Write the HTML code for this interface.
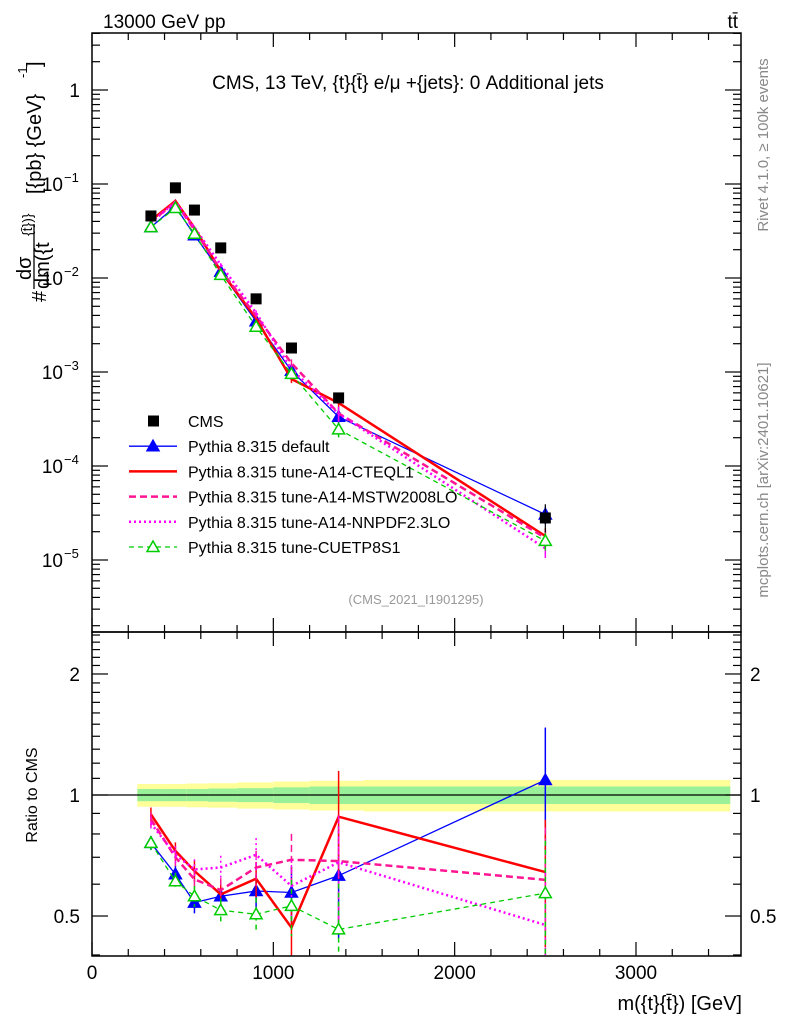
<!DOCTYPE html>
<html><head><meta charset="utf-8"><style>
html,body{margin:0;padding:0;background:#fff;}
svg text{font-family:"Liberation Sans",sans-serif;}
</style></head><body>
<svg id="chart" width="786" height="1024" viewBox="0 0 786 1024" xmlns="http://www.w3.org/2000/svg">
<g id="ratio-bands"></g>
<g id="marks"></g>
<g id="axes"></g>
<text x="103" y="28" font-size="19">13000 GeV pp</text>
<text x="738" y="28" font-size="19" text-anchor="end">tt̄</text>
<text x="408" y="89" font-size="19" text-anchor="middle">CMS, 13 TeV, {t}{t̄} e/μ +{jets}: 0 Additional jets</text>
<text x="416" y="604" font-size="13" fill="#999" text-anchor="middle">(CMS_2021_I1901295)</text>
<text transform="translate(768,145) rotate(-90)" font-size="15" fill="#888" text-anchor="middle">Rivet 4.1.0, ≥ 100k events</text>
<text transform="translate(768,480) rotate(-90)" font-size="15" fill="#888" text-anchor="middle">mcplots.cern.ch [arXiv:2401.10621]</text>
<g transform="translate(46,302) rotate(-90)">
 <text x="0" y="0" font-size="20">#</text>
 <text x="22" y="-15" font-size="20">dσ</text>
 <line x1="13" y1="-12" x2="78" y2="-12" stroke="#000" stroke-width="1.3"/>
 <text x="13" y="3" font-size="20">dm({t</text>
 <text x="66" y="-14" font-size="14">{t̄})}</text>
 <text x="108" y="-5" font-size="20">[{pb} {GeV}</text>
 <text x="224" y="-19" font-size="13">-1</text>
 <text x="235" y="-5" font-size="20">]</text>
</g>
<text transform="translate(37,795) rotate(-90)" font-size="16" text-anchor="middle">Ratio to CMS</text>
<text x="742" y="1010" font-size="20" text-anchor="end">m({t}{t̄}) [GeV]</text>
<g id="legend"></g>
</svg>
<script>
const massBins = [325, 460, 565, 710, 905, 1100, 1360, 2500];
const cmsValues = [0.0457, 0.091, 0.0528, 0.0209, 0.0060, 0.0018, 0.00053, 0.000028];
const ratioDefault = [0.76, 0.635, 0.54, 0.56, 0.577, 0.572, 0.63, 1.09];
const ratioCTEQ = [0.895, 0.726, 0.647, 0.566, 0.619, 0.468, 0.883, 0.643];
const ratioMSTW = [0.87, 0.70, 0.617, 0.58, 0.66, 0.69, 0.685, 0.615];
const ratioNNPDF = [0.85, 0.71, 0.653, 0.66, 0.71, 0.594, 0.68, 0.475];
const ratioCUETP = [0.76, 0.61, 0.56, 0.517, 0.505, 0.53, 0.463, 0.57];
const ratioRelErr = [0.04, 0.05, 0.06, 0.07, 0.1, 0.16, 0.3, 0.35];
const bandEdges = [250, 400, 520, 640, 800, 1000, 1200, 1500, 3520];
const bandGreen = [0.035, 0.035, 0.035, 0.038, 0.04, 0.045, 0.05, 0.05];
const bandYellow = [0.065, 0.065, 0.068, 0.07, 0.075, 0.08, 0.085, 0.09];
const xTicks = [0, 1000, 2000, 3000];
const yDecades = [0, -1, -2, -3, -4, -5];
const yDecadeLabels = ["1", "10", "10", "10", "10", "10"];
const yDecadeExps = ["", "−1", "−2", "−3", "−4", "−5"];
const ratioTicks = [2, 1, 0.5];

const NS = "http://www.w3.org/2000/svg";
const L = 92, R = 741, T = 33, MB = 632, RB = 956;
const xs = v => L + v * 0.18133;
const ys = v => 90 - 94 * Math.log10(v);
const yr = v => 795 - 402 * Math.log10(v);
function mk(parent, tag, attrs) {
  const e = document.createElementNS(NS, tag);
  for (const k in attrs) e.setAttribute(k, attrs[k]);
  parent.appendChild(e);
  return e;
}
const axes = document.getElementById("axes");
const marks = document.getElementById("marks");
const bands = document.getElementById("ratio-bands");
const legend = document.getElementById("legend");

for (let i = 0; i < bandEdges.length - 1; i++) {
  const x1 = xs(bandEdges[i]), x2 = xs(bandEdges[i + 1]);
  const y = mk(bands, "rect", {x: x1, y: yr(1 + bandYellow[i]), width: x2 - x1, height: yr(1 - bandYellow[i]) - yr(1 + bandYellow[i]), fill: "#ffff99"});
  
  
  const g = mk(bands, "rect", {x: x1, y: yr(1 + bandGreen[i]), width: x2 - x1, height: yr(1 - bandGreen[i]) - yr(1 + bandGreen[i]), fill: "#99f099"});
  
  
}
const one = mk(bands, "line", {x1: L, x2: R, y1: yr(1), y2: yr(1), stroke: "#000", "stroke-width": 1.2});



for (const [t, b, nm] of [[T, MB, 'main-panel-frame'], [MB, RB, 'ratio-panel-frame']]) {
  const f = mk(axes, "rect", {x: L, y: t, width: R - L, height: b - t, fill: "none", stroke: "#000", "stroke-width": 1.5});
  
  
}
for (const [t, b] of [[T, MB], [MB, RB]]) {
  for (let v = 0; v <= 3500; v += 200) {
    const major = v % 1000 === 0;
    const len = major ? 14 : 7;
    const x = xs(v);
    mk(axes, "line", {x1: x, x2: x, y1: b, y2: b - len, stroke: "#000", "stroke-width": 1.2});
    mk(axes, "line", {x1: x, x2: x, y1: t, y2: t + len, stroke: "#000", "stroke-width": 1.2});
  }
}
xTicks.forEach(v => {
  const t = mk(axes, "text", {x: xs(v), y: 979, "font-size": 19, "text-anchor": "middle"});
  t.textContent = v;
  
  
});
for (let d = -6; d <= 0; d++) {
  for (let m = 1; m <= 9; m++) {
    const v = m * Math.pow(10, d);
    const y = ys(v);
    if (y < T || y > MB) continue;
    const len = m === 1 ? 16 : 8;
    mk(axes, "line", {x1: L, x2: L + len, y1: y, y2: y, stroke: "#000", "stroke-width": 1.2});
    mk(axes, "line", {x1: R, x2: R - len, y1: y, y2: y, stroke: "#000", "stroke-width": 1.2});
  }
}
yDecades.forEach((d, i) => {
  const y = ys(Math.pow(10, d));
  const t = mk(axes, "text", {x: yDecadeExps[i] ? 63 : 80, y: y + 7, "font-size": 19, "text-anchor": "end"});
  t.textContent = yDecadeLabels[i];
  
  
  if (yDecadeExps[i]) {
    const e = mk(axes, "text", {x: 64, y: y - 2, "font-size": 13});
    e.textContent = yDecadeExps[i];
    
    
  }
});
for (let k = 4; k <= 25; k++) {
  const vv = k / 10;
  const y = yr(vv);
  if (y < MB || y > RB) continue;
  const major = ratioTicks.includes(vv);
  const len = major ? 16 : 8;
  mk(axes, "line", {x1: L, x2: L + len, y1: y, y2: y, stroke: "#000", "stroke-width": 1.2});
  mk(axes, "line", {x1: R, x2: R - len, y1: y, y2: y, stroke: "#000", "stroke-width": 1.2});
}
ratioTicks.forEach(v => {
  const y = yr(v);
  const a = mk(axes, "text", {x: 80, y: y + 7, "font-size": 19, "text-anchor": "end"});
  a.textContent = v;
  
  
  const b = mk(axes, "text", {x: 750, y: y + 7, "font-size": 19});
  b.textContent = v;
  
  
});

const series = [
  {name: "default", ratio: ratioDefault, color: "#0000ff", width: 1.3, dash: "", marker: "filled"},
  {name: "cteq", ratio: ratioCTEQ, color: "#ff0000", width: 2.5, dash: "", marker: ""},
  {name: "mstw", ratio: ratioMSTW, color: "#ff1493", width: 2.5, dash: "7,4", marker: ""},
  {name: "nnpdf", ratio: ratioNNPDF, color: "#ff00ff", width: 2.5, dash: "2,3", marker: ""},
  {name: "cuetp", ratio: ratioCUETP, color: "#00cc00", width: 1.3, dash: "5,4", marker: "open"}
];
function tri(parent, x, y, s, filled) {
  return mk(parent, "polygon", {points: `${x},${y - 6} ${x - 6},${y + 4.5} ${x + 6},${y + 4.5}`, fill: filled ? s.color : "#fff", stroke: s.color, "stroke-width": 1.5});
}
series.forEach(s => {
  const g = mk(marks, "g", {});
  
  
  const main = s.ratio.map((r, i) => cmsValues[i] * r);
  const mainPts = massBins.map((m, i) => `${xs(m)},${ys(main[i])}`).join(" ");
  const ratPts = massBins.map((m, i) => `${xs(m)},${yr(s.ratio[i])}`).join(" ");
  const l1 = mk(g, "polyline", {points: mainPts, fill: "none", stroke: s.color, "stroke-width": s.width, "stroke-dasharray": s.dash});
  
  
  const l2 = mk(g, "polyline", {points: ratPts, fill: "none", stroke: s.color, "stroke-width": s.width, "stroke-dasharray": s.dash});
  
  
  massBins.forEach((m, i) => {
    const x = xs(m);
    const e = ratioRelErr[i];
    const r = s.ratio[i];
    const y1 = Math.max(MB, yr(r * (1 + e))), y2 = Math.min(RB, yr(Math.max(0.01, r * (1 - e))));
    const eb = mk(g, "line", {x1: x, x2: x, y1: y1, y2: y2, stroke: s.color, "stroke-width": 1.5, "stroke-dasharray": s.dash});
    
    
    const my1 = ys(main[i] * (1 + e * 0.6)), my2 = ys(main[i] * (1 - e * 0.6));
    const em = mk(g, "line", {x1: x, x2: x, y1: my1, y2: my2, stroke: s.color, "stroke-width": 1.5});
    
    
    if (s.marker) {
      const a = tri(g, x, ys(main[i]), s, s.marker === "filled");
      
      
      const b = tri(g, x, yr(r), s, s.marker === "filled");
      
      
    }
  });
});
massBins.forEach((m, i) => {
  const sq = mk(marks, "rect", {x: xs(m) - 5.5, y: ys(cmsValues[i]) - 5.5, width: 11, height: 11, fill: "#000"});
  
  
});
const cmsErr = mk(marks, "line", {x1: xs(massBins[7]), x2: xs(massBins[7]), y1: ys(cmsValues[7] * 1.4), y2: ys(cmsValues[7] * 0.7), stroke: "#000", "stroke-width": 1.2});



const legendNames = ["CMS", "Pythia 8.315 default", "Pythia 8.315 tune-A14-CTEQL1", "Pythia 8.315 tune-A14-MSTW2008LO", "Pythia 8.315 tune-A14-NNPDF2.3LO", "Pythia 8.315 tune-CUETP8S1"];
legendNames.forEach((n, i) => {
  const y = 421 + i * 25.2;
  const g = mk(legend, "g", {});
  
  
  if (i === 0) {
    mk(g, "rect", {x: 148, y: y - 5.5, width: 11, height: 11, fill: "#000"});
  } else {
    const s = series[i - 1];
    mk(g, "line", {x1: 129, x2: 177, y1: y, y2: y, stroke: s.color, "stroke-width": s.width, "stroke-dasharray": s.dash});
    if (s.marker) tri(g, 153, y, s, s.marker === "filled");
  }
  const t = mk(g, "text", {x: 188, y: y + 6, "font-size": 16});
  t.textContent = n;
});
</script>
</body></html>
